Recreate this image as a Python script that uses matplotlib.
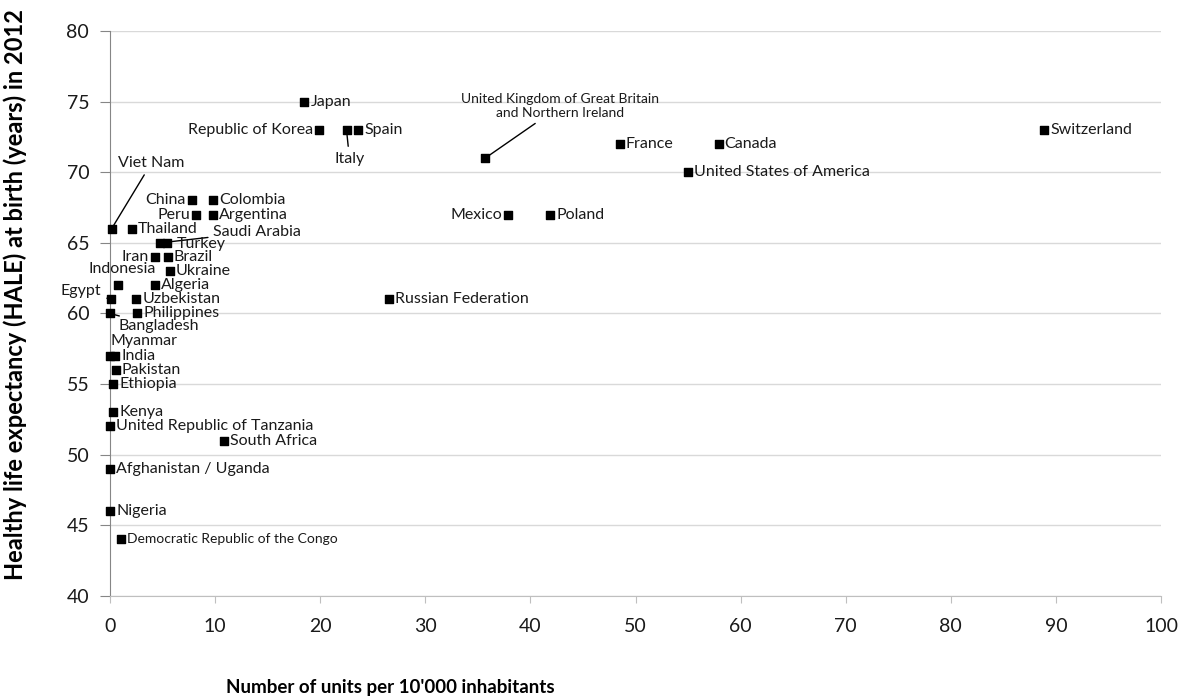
import matplotlib
matplotlib.use('Agg')
import matplotlib.pyplot as plt

plt.rcParams['font.family'] = ['Lato', 'DejaVu Sans']

# Data: units per 10'000 inhabitants vs HALE at birth (2012)
countries = [
    'Japan', 'Republic of Korea', 'Italy', 'Spain',
    'United Kingdom of Great Britain\nand Northern Ireland',
    'France', 'Canada', 'United States of America', 'Switzerland',
    'Mexico', 'Poland', 'Russian Federation', 'South Africa',
    'China', 'Colombia', 'Peru', 'Argentina', 'Viet Nam', 'Thailand',
    'Saudi Arabia', 'Turkey', 'Iran', 'Brazil', 'Ukraine', 'Indonesia',
    'Algeria', 'Egypt', 'Uzbekistan', 'Bangladesh', 'Philippines',
    'Myanmar', 'India', 'Pakistan', 'Ethiopia', 'Kenya',
    'United Republic of Tanzania', 'Afghanistan / Uganda', 'Nigeria',
    'Democratic Republic of the Congo',
]
units = [
    18.5, 19.9, 22.5, 23.6,
    35.7,
    48.5, 57.9, 55.0, 88.9,
    37.9, 41.9, 26.5, 10.8,
    7.8, 9.8, 8.2, 9.8, 0.15, 2.1,
    4.8, 5.4, 4.3, 5.5, 5.7, 0.8,
    4.3, 0.1, 2.5, 0.0, 2.6,
    0.0, 0.5, 0.55, 0.3, 0.3,
    0.0, 0.0, 0.0,
    1.05,
]
hale = [
    75, 73, 73, 73,
    71,
    72, 72, 70, 73,
    67, 67, 61, 51,
    68, 68, 67, 67, 66, 66,
    65, 65, 64, 64, 63, 62,
    62, 61, 61, 60, 60,
    57, 57, 56, 55, 53,
    52, 49, 46,
    44,
]

# label placement: (dx px, dy px, ha, leader line, font size)
FS = 11.5
R = (6, 0, 'left', False, FS)
L = (-6, 0, 'right', False, FS)
placement = {
    'Republic of Korea': L,
    'Italy': (3, -29, 'center', True, FS),
    'United Kingdom of Great Britain\nand Northern Ireland': (75, 52, 'center', True, 10),
    'Mexico': L, 'China': L, 'Peru': L, 'Iran': L,
    'Viet Nam': (40, 66, 'center', True, FS),
    'Saudi Arabia': (53, 11, 'left', True, FS),
    'Turkey': (10, -1, 'left', False, FS),
    'Indonesia': (4, 16, 'center', True, FS),
    'Egypt': (-30, 8, 'center', True, FS),
    'Bangladesh': (8, -13, 'left', True, FS),
    'Myanmar': (0, 15, 'left', False, FS),
    'Democratic Republic of the Congo': (6, 0, 'left', False, 10),
}

fig = plt.figure(figsize=(11.91, 6.99), dpi=100)
ax = fig.add_axes([0.0924, 0.1474, 0.8824, 0.8083])

ax.scatter(units, hale, marker='s', s=36, color='black', zorder=3, clip_on=False)

for name, x, y in zip(countries, units, hale):
    dx, dy, ha, leader, fs = placement.get(name, R)
    if leader:
        ax.annotate(name, (x, y), xytext=(dx, dy), textcoords='offset pixels',
                    ha=ha, va='center', fontsize=fs, color='#1a1a1a',
                    multialignment='center',
                    arrowprops=dict(arrowstyle='-', color='black', lw=1,
                                    shrinkA=2, shrinkB=3))
    else:
        ax.annotate(name, (x, y), xytext=(dx, dy), textcoords='offset pixels',
                    ha=ha, va='center', fontsize=fs, color='#1a1a1a')

ax.set_xlim(0, 100)
ax.set_ylim(40, 80)
ax.set_xticks(range(0, 101, 10))
ax.set_yticks(range(40, 81, 5))
ax.grid(axis='y', color='#d9d9d9', lw=1)
ax.set_axisbelow(True)

for side in ['top', 'right']:
    ax.spines[side].set_visible(False)
ax.spines['left'].set_color('#868686')
ax.spines['bottom'].set_color('#bfbfbf')
ax.tick_params(axis='y', colors='#868686', labelcolor='#1a1a1a', length=7,
               labelsize=14, pad=8)
ax.tick_params(axis='x', colors='#bfbfbf', labelcolor='#1a1a1a', length=5,
               labelsize=14, pad=11)

fig.text(0.013, 0.578, 'Healthy life expectancy (HALE) at birth (years) in 2012',
         rotation=90, ha='center', va='center', fontsize=17, fontweight='bold')
fig.text(0.3275, 0.017, "Number of units per 10'000 inhabitants",
         ha='center', va='center', fontsize=13.5, fontweight='bold')

fig.savefig('out.png', dpi=100)
